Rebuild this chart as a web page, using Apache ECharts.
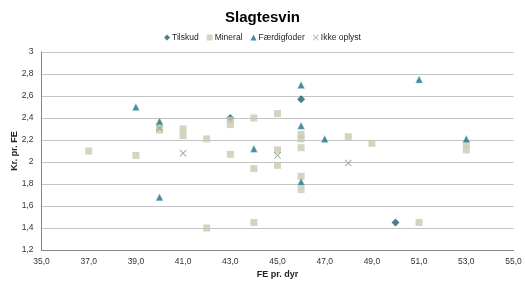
<!DOCTYPE html>
<html>
<head>
<meta charset="utf-8">
<script src="https://cdn.jsdelivr.net/npm/echarts@6/dist/echarts.min.js"></script>
<style>
  html, body { margin: 0; padding: 0; background: #fff; }
  #chart { width: 525px; height: 281px; }
</style>
</head>
<body>
<div id="chart"></div>
<script>
// [FE pr. dyr, Kr. pr. FE]
const tilskud = [[43, 2.40], [46, 2.57], [50, 1.45]];
const mineral = [
  [37, 2.10], [39, 2.06], [40, 2.32], [40, 2.29], [41, 2.30], [41, 2.24],
  [42, 2.21], [42, 1.40], [43, 2.38], [43, 2.34], [43, 2.07], [44, 2.40],
  [44, 1.94], [44, 1.45], [45, 2.44], [45, 2.11], [45, 1.97], [46, 2.25],
  [46, 2.21], [46, 2.13], [46, 1.87], [46, 1.75], [48, 2.23], [49, 2.17],
  [51, 1.45], [53, 2.16], [53, 2.11]
];
const faerdigfoder = [
  [39, 2.50], [40, 2.37], [40, 1.68], [44, 2.12], [46, 2.70], [46, 2.33],
  [46, 1.82], [47, 2.21], [51, 2.75], [53, 2.21]
];
const ikkeOplyst = [[40, 2.31], [41, 2.08], [45, 2.06], [48, 1.99]];

const crossPath = 'path://M0,1L1,0L5,4L9,0L10,1L6,5L10,9L9,10L5,6L1,10L0,9L4,5Z';
const font = 'Liberation Sans, Arial, sans-serif';

const chart = echarts.init(document.getElementById('chart'));
chart.setOption({
  animation: false,
  textStyle: { fontFamily: font },
  title: {
    text: 'Slagtesvin',
    left: 'center',
    top: 5,
    textStyle: { fontSize: 15, fontWeight: 'bold', color: '#000', fontFamily: font }
  },
  legend: {
    top: 28,
    left: 'center',
    itemWidth: 6,
    itemHeight: 6,
    itemGap: 8,
    textStyle: { fontSize: 8.5, color: '#222', fontFamily: font, padding: [0, 0, 0, -3] },
    data: [
      { name: 'Tilskud', icon: 'diamond' },
      { name: 'Mineral', icon: 'rect' },
      { name: 'Færdigfoder', icon: 'triangle', itemStyle: { borderWidth: 0 } },
      { name: 'Ikke oplyst', icon: crossPath }
    ]
  },
  grid: { left: 41.5, right: 11.5, top: 52, bottom: 31, containLabel: false, outerBoundsMode: 'none' },
  xAxis: {
    type: 'value',
    min: 35, max: 55, interval: 2,
    name: 'FE pr. dyr',
    nameLocation: 'middle',
    nameGap: 20,
    nameMoveOverlap: false,
    nameTextStyle: { fontSize: 9, fontWeight: 'bold', color: '#222' },
    axisLine: { lineStyle: { color: '#888' } },
    axisTick: { show: false },
    splitLine: { show: false },
    axisLabel: {
      fontSize: 8.5, color: '#333', margin: 7,
      formatter: v => v.toFixed(1).replace('.', ',')
    }
  },
  yAxis: {
    type: 'value',
    min: 1.2, max: 3, interval: 0.2,
    name: 'Kr. pr. FE',
    nameLocation: 'middle',
    nameGap: 22,
    nameMoveOverlap: false,
    nameTextStyle: { fontSize: 9, fontWeight: 'bold', color: '#222' },
    axisLine: { show: true, lineStyle: { color: '#888' } },
    axisTick: { show: false },
    splitLine: { lineStyle: { color: '#c4c4c4' } },
    axisLabel: {
      fontSize: 8.5, color: '#333', margin: 8,
      formatter: v => String(+v.toFixed(1)).replace('.', ',')
    }
  },
  series: [
    {
      name: 'Tilskud', type: 'scatter', symbol: 'diamond', symbolSize: 8,
      itemStyle: { color: '#1b5f6e' }, data: tilskud
    },
    {
      name: 'Mineral', type: 'scatter', symbol: 'rect', symbolSize: 7,
      itemStyle: { color: '#c9c9b2' }, data: mineral
    },
    {
      name: 'Færdigfoder', type: 'scatter', symbol: 'triangle', symbolSize: 7,
      itemStyle: { color: '#1a6f82', borderColor: '#9fd3df', borderWidth: 0.6 },
      data: faerdigfoder
    },
    {
      name: 'Ikke oplyst', type: 'scatter', symbol: crossPath, symbolSize: 7,
      itemStyle: { color: '#7f9f86' }, data: ikkeOplyst
    }
  ]
});
</script>
</body>
</html>
